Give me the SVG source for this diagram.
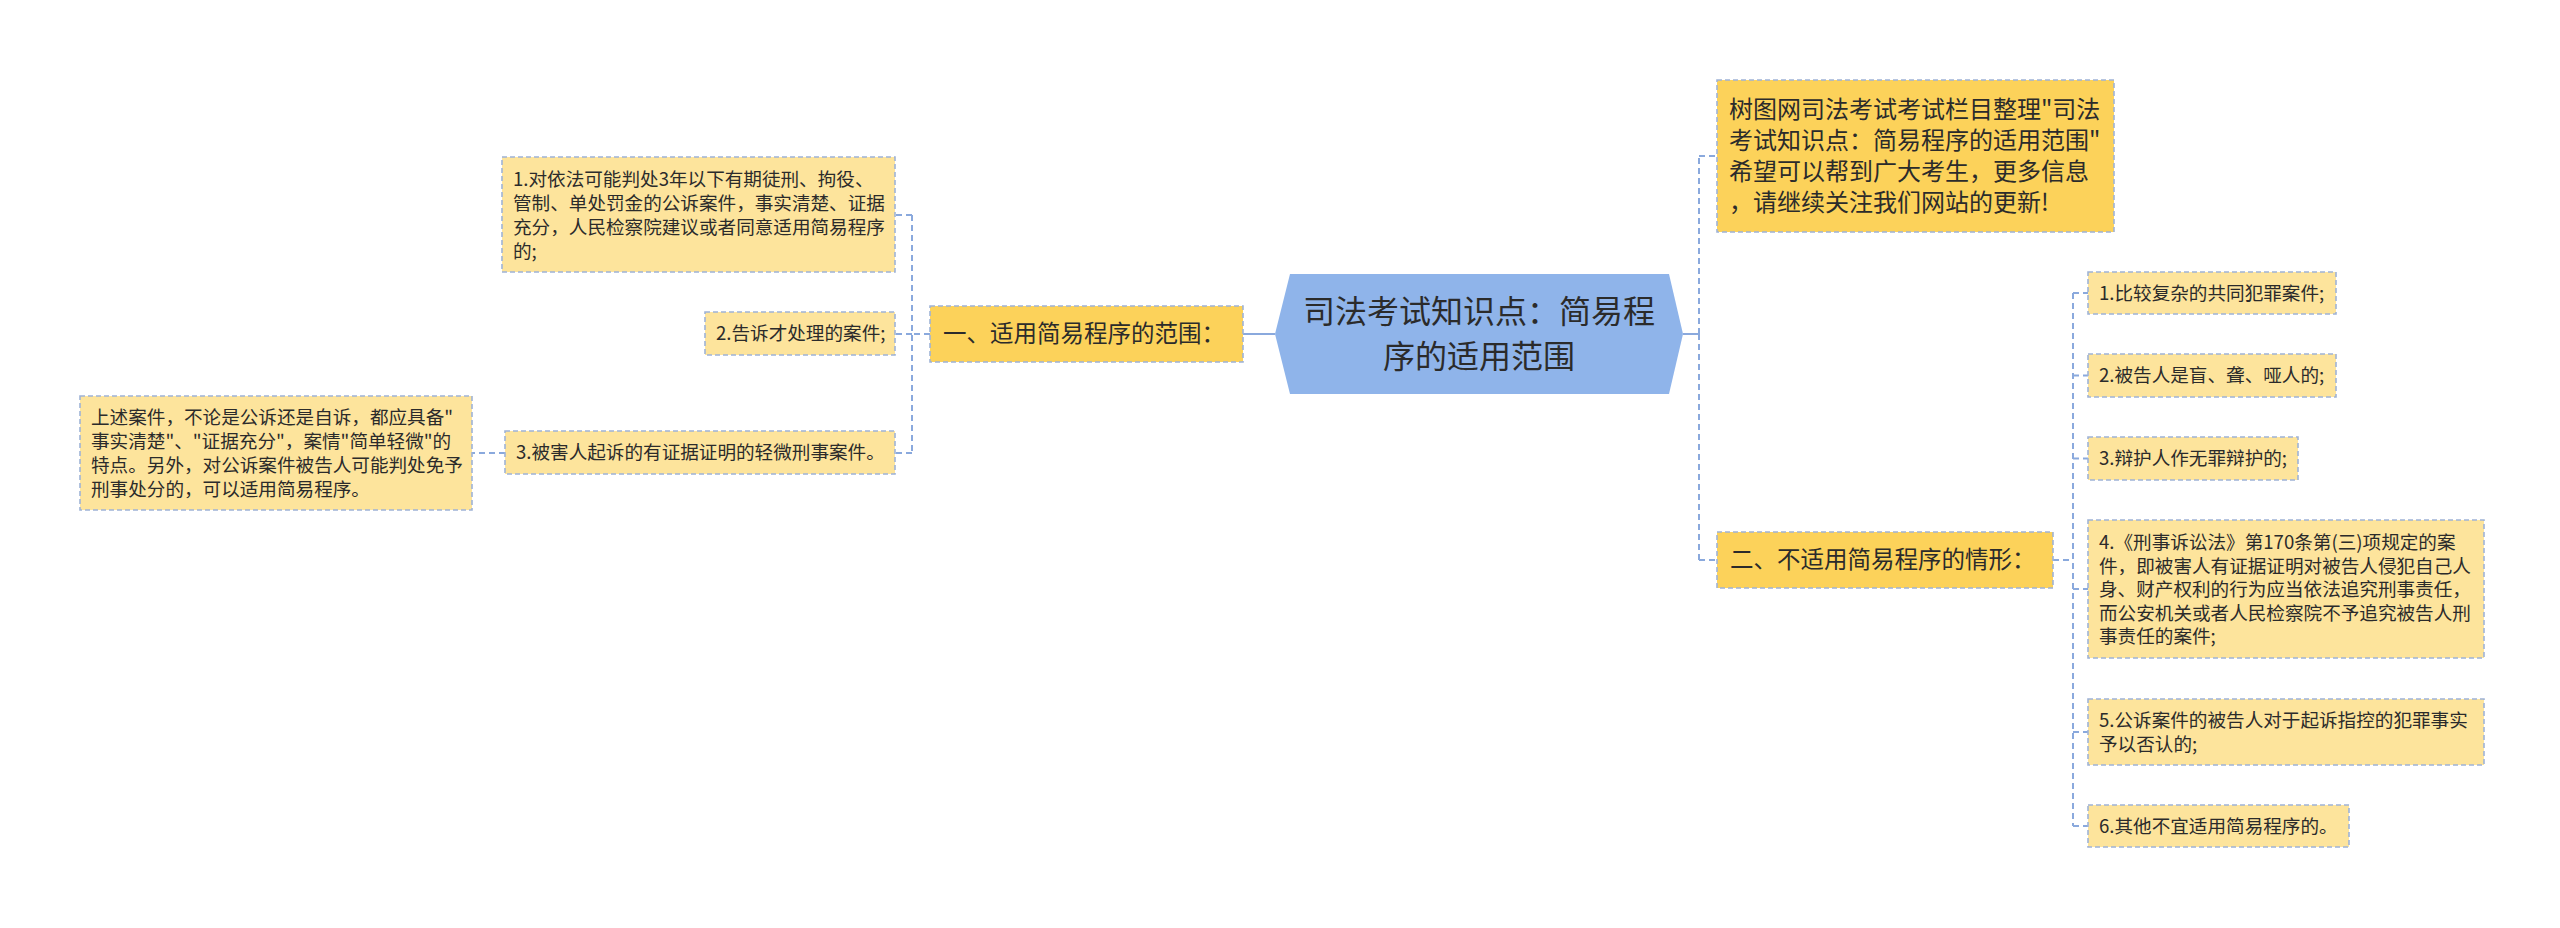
<svg xmlns="http://www.w3.org/2000/svg" width="2560" height="928" viewBox="0 0 2560 928">
<style>
text{font-family:"Noto Sans CJK SC","Microsoft YaHei",sans-serif;fill:#2b2b2b}
.leaf rect{fill:#fde49c;stroke:#9fb3d6;stroke-width:1.6;stroke-dasharray:5 3}
.br rect{fill:#fcd25a;stroke:#9fb3d6;stroke-width:1.6;stroke-dasharray:5 3}
.leaf text{font-size:18.6px}
.br text{font-size:23.5px}
.top text{font-size:24px}
.main text{font-size:32px;text-anchor:middle}
.c{fill:none;stroke:#8aa9dd;stroke-width:2;stroke-dasharray:6 4}
.s{fill:none;stroke:#8aa9dd;stroke-width:2}
</style>
<rect width="2560" height="928" fill="#ffffff"/>
<g id="connectors">
<path class="s" d="M1243 334H1275M1683 334H1699"/>
<path class="c" d="M930 334H912M912 215V453M912 215H895M912 334H895M912 453H895M505 453H472"/>
<path class="c" d="M1699 334V156M1699 334V560M1699 156H1717M1699 560H1717"/>
<path class="c" d="M2053 560H2073M2073 293V826M2073 293H2088M2073 375.5H2088M2073 458.5H2088M2073 589H2088M2073 732H2088M2073 826H2088"/>
</g>
<g id="main" class="main">
<polygon points="1275,334 1290,274 1669,274 1683,334 1669,394 1290,394" fill="#8fb4ea"/>
<text x="1479" y="323">司法考试知识点：简易程</text>
<text x="1479" y="368">序的适用范围</text>
</g>
<g id="branch1" class="br">
<rect x="930" y="306" width="313" height="56"/>
<text x="943" y="342">一、适用简易程序的范围：</text>
</g>
<g id="l1" class="leaf">
<rect x="502" y="157" width="393" height="115"/>
<text x="513" y="185.5">1.对依法可能判处3年以下有期徒刑、拘役、</text>
<text x="513" y="209.5">管制、单处罚金的公诉案件，事实清楚、证据</text>
<text x="513" y="233.5">充分，人民检察院建议或者同意适用简易程序</text>
<text x="513" y="257.5">的;</text>
</g>
<g id="l2" class="leaf">
<rect x="705" y="312" width="190" height="43"/>
<text x="716" y="340">2.告诉才处理的案件;</text>
</g>
<g id="l3" class="leaf">
<rect x="505" y="431" width="390" height="43"/>
<text x="516" y="459">3.被害人起诉的有证据证明的轻微刑事案件。</text>
</g>
<g id="l3c" class="leaf">
<rect x="80" y="396" width="392" height="114"/>
<text x="91" y="424">上述案件，不论是公诉还是自诉，都应具备"</text>
<text x="91" y="448">事实清楚"、"证据充分"，案情"简单轻微"的</text>
<text x="91" y="472">特点。另外，对公诉案件被告人可能判处免予</text>
<text x="91" y="496">刑事处分的，可以适用简易程序。</text>
</g>
<g id="rtop" class="br top">
<rect x="1717" y="80" width="397" height="152"/>
<text x="1729" y="117.5">树图网司法考试考试栏目整理"司法</text>
<text x="1729" y="148.5">考试知识点：简易程序的适用范围"</text>
<text x="1729" y="179.5">希望可以帮到广大考生，更多信息</text>
<text x="1729" y="210.5">，请继续关注我们网站的更新!</text>
</g>
<g id="branch2" class="br">
<rect x="1717" y="532" width="336" height="56"/>
<text x="1730" y="568">二、不适用简易程序的情形：</text>
</g>
<g id="r1" class="leaf">
<rect x="2088" y="272" width="248" height="42"/>
<text x="2099" y="299.5">1.比较复杂的共同犯罪案件;</text>
</g>
<g id="r2" class="leaf">
<rect x="2088" y="354" width="248" height="43"/>
<text x="2099" y="382">2.被告人是盲、聋、哑人的;</text>
</g>
<g id="r3" class="leaf">
<rect x="2088" y="437" width="210" height="43"/>
<text x="2099" y="465">3.辩护人作无罪辩护的;</text>
</g>
<g id="r4" class="leaf">
<rect x="2088" y="520" width="396" height="138"/>
<text x="2099" y="549">4.《刑事诉讼法》第170条第(三)项规定的案</text>
<text x="2099" y="572.5">件，即被害人有证据证明对被告人侵犯自己人</text>
<text x="2099" y="596">身、财产权利的行为应当依法追究刑事责任，</text>
<text x="2099" y="619.5">而公安机关或者人民检察院不予追究被告人刑</text>
<text x="2099" y="643">事责任的案件;</text>
</g>
<g id="r5" class="leaf">
<rect x="2088" y="699" width="396" height="66"/>
<text x="2099" y="727">5.公诉案件的被告人对于起诉指控的犯罪事实</text>
<text x="2099" y="750.5">予以否认的;</text>
</g>
<g id="r6" class="leaf">
<rect x="2088" y="805" width="261" height="42"/>
<text x="2099" y="832.5">6.其他不宜适用简易程序的。</text>
</g>
</svg>
